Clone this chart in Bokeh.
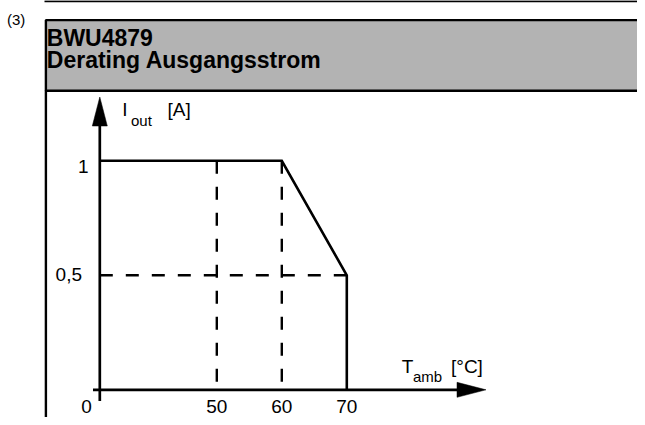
from bokeh.plotting import figure
from bokeh.models import Range1d
from bokeh.core.properties import value
from bokeh.embed import file_html
from bokeh.resources import INLINE

# ---------------- data ----------------
figure_number = "(3)"
title_lines = ["BWU4879", "Derating Ausgangsstrom"]

temp_ticks = [0, 50, 60, 70]
temp_tick_labels = ["0", "50", "60", "70"]
current_ticks = [1.0, 0.5]
current_tick_labels = ["1", "0,5"]

derating_temp = [0, 60, 70, 70]          # °C
derating_current = [1.0, 1.0, 0.5, 0.0]  # A

guide_temps = [50, 60]      # vertical dashed guides (from plateau down to 0)
guide_current = 0.5         # horizontal dashed guide (from 70 °C back to the axis)
guide_current_end_temp = 70

# ---------------- layout (reference pixel geometry) ----------------
W, H = 637, 417
AX_X = 99.3        # x of the current axis (T = 0)
AX_Y = 389.3       # y of the temperature axis (I = 0)
PX_PER_DEG = 6.5
PX_PER_AMP = 229.0
BREAK = 32.0       # schematic axis break between 0 and 50 °C
BASE_FIX = 0.37    # svg text baseline correction (em)
FONT = value("Liberation Sans")
BLACK = "#000000"


def xpos(t):
    return 0.0 if t == 0 else t - BREAK


def X(px):
    return (px - AX_X) / PX_PER_DEG


def Y(py):
    return (AX_Y - py) / PX_PER_AMP


def TY(py, size):
    """data y for a text baseline at pixel row py"""
    return Y(py - BASE_FIX * size)


p = figure(width=W, height=H, output_backend="svg", toolbar_location=None,
           x_range=Range1d(X(0), X(W)),
           y_range=Range1d(Y(H), Y(0)),
           min_border=0, x_axis_location=None, y_axis_location=None)
p.xgrid.visible = False
p.ygrid.visible = False
p.outline_line_color = None
p.background_fill_color = "white"
p.border_fill_color = "white"

# ---------------- frame / header ----------------
p.segment(x0=[X(44)], y0=[Y(0.8)], x1=[X(700)], y1=[Y(0.8)],
          line_color=BLACK, line_width=2)
p.quad(left=[X(45.4)], right=[X(700)], top=[Y(19.6)], bottom=[Y(90.2)],
       fill_color="#b3b3b3", line_color=BLACK, line_width=2.4)
p.segment(x0=[X(45.4)], y0=[Y(90)], x1=[X(45.4)], y1=[Y(440)],
          line_color=BLACK, line_width=2.4)

p.text(x=[X(6.5)], y=[TY(24.6, 15)], text=[figure_number], text_font=FONT,
       text_font_size=value("15px"), text_align="left",
       text_baseline="alphabetic", text_color=BLACK)
p.text(x=[X(46.3), X(46.3)], y=[TY(46, 23), TY(68.5, 23)], text=title_lines,
       text_font=FONT, text_font_size=value("23px"), text_font_style="bold",
       text_align="left", text_baseline="alphabetic", text_color=BLACK)

# ---------------- guides ----------------
top_current = max(derating_current)
p.segment(x0=[xpos(t) for t in guide_temps], y0=[top_current] * len(guide_temps),
          x1=[xpos(t) for t in guide_temps], y1=[0.0] * len(guide_temps),
          line_color=BLACK, line_width=2.4, line_dash="13 13", line_cap="butt")
p.segment(x0=[xpos(guide_current_end_temp)], y0=[guide_current],
          x1=[xpos(0)], y1=[guide_current],
          line_color=BLACK, line_width=2.4, line_dash="13 13", line_cap="butt")

# ---------------- derating curve ----------------
p.line(x=[xpos(t) for t in derating_temp], y=derating_current,
       line_color=BLACK, line_width=2.6, line_join="miter")

# ---------------- axes (arrows) ----------------
p.segment(x0=[xpos(0)], y0=[Y(400.5)], x1=[xpos(0)], y1=[Y(118)],
          line_color=BLACK, line_width=2.7)
p.segment(x0=[X(92.5)], y0=[0.0], x1=[X(462)], y1=[0.0],
          line_color=BLACK, line_width=2.7)
hw_x = 7.5 / PX_PER_DEG
hw_y = 7.5 / PX_PER_AMP
p.patch(x=[xpos(0), xpos(0) - hw_x, xpos(0) + hw_x],
        y=[Y(96.5), Y(125.5), Y(125.5)], fill_color=BLACK, line_color=BLACK,
        line_width=0.5)
p.patch(x=[X(485.5), X(456.5), X(456.5)], y=[0.0, hw_y, -hw_y],
        fill_color=BLACK, line_color=BLACK, line_width=0.5)

# ---------------- tick labels ----------------
x_label_dx = [-13.3 if t == 0 else 0.0 for t in temp_ticks]
p.text(x=[xpos(t) + dx / PX_PER_DEG for t, dx in zip(temp_ticks, x_label_dx)],
       y=[TY(412.8, 19)] * len(temp_ticks), text=temp_tick_labels,
       text_font=FONT, text_font_size=value("19px"), text_align="center",
       text_baseline="alphabetic", text_color=BLACK)

y_label_dx = [3.0, -3.5]
y_label_dy = [13.0, 6.2]   # baseline below the tick value, px
p.text(x=[X(85.0 + dx) for dx in y_label_dx],
       y=[c - (dy - BASE_FIX * 19) / PX_PER_AMP
          for c, dy in zip(current_ticks, y_label_dy)],
       text=current_tick_labels, text_font=FONT, text_font_size=value("19px"),
       text_align="right", text_baseline="alphabetic", text_color=BLACK)

# ---------------- axis titles ----------------
def label(px, py, txt, size):
    p.text(x=[X(px)], y=[TY(py, size)], text=[txt], text_font=FONT,
           text_font_size=value(f"{size}px"), text_align="left",
           text_baseline="alphabetic", text_color=BLACK)


label(121.8, 116.2, "I", 19)
label(130.5, 125.2, "out", 15)
label(167.0, 116.2, "[A]", 19)
label(401.3, 373.2, "T", 19)
label(412.5, 381.5, "amb", 15)
label(450.5, 373.2, "[°C]", 19)

open("out.html", "w").write(file_html(p, INLINE))
